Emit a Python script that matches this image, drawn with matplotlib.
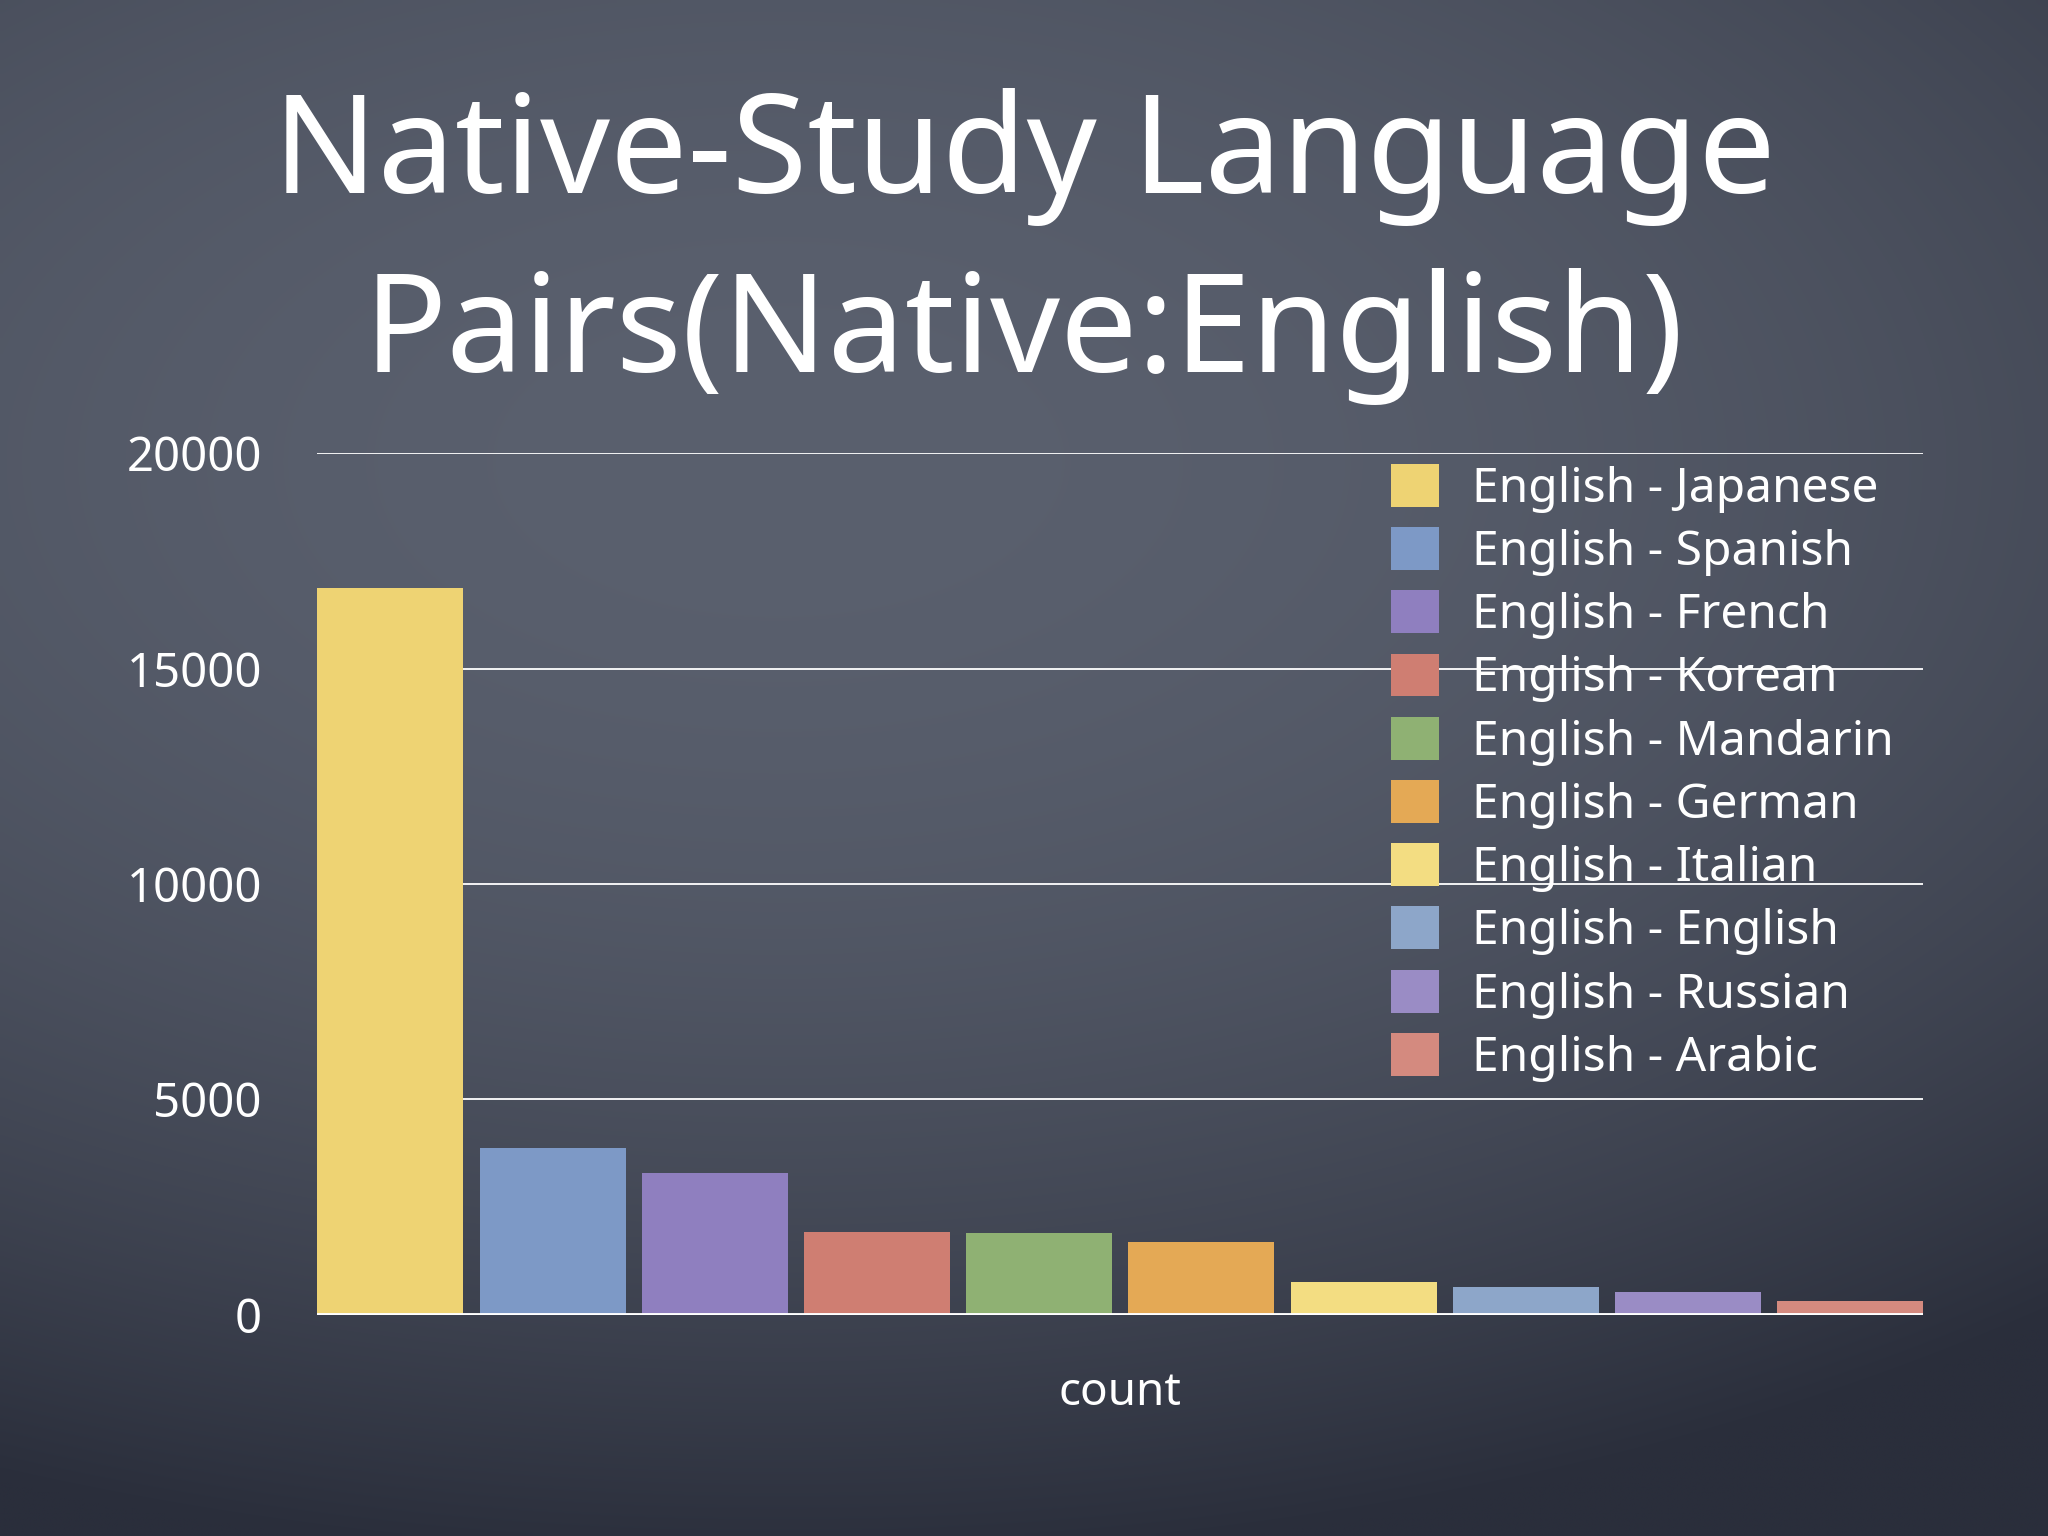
import numpy as np
import matplotlib
matplotlib.use("Agg")
import matplotlib.pyplot as plt

# ---- data ----
labels = ["English - Japanese", "English - Spanish", "English - French", "English - Korean",
          "English - Mandarin", "English - German", "English - Italian", "English - English",
          "English - Russian", "English - Arabic"]
counts = [16870, 3880, 3295, 1925, 1910, 1690, 765, 640, 540, 325]
colors = ["#eed373", "#7d99c6", "#8f7fbf", "#cf7e72", "#8fb173",
          "#e4a955", "#f3dd82", "#8da6c9", "#9a8cc5", "#d48a7f"]
yticks = [0, 5000, 10000, 15000, 20000]
title = "Native-Study Language\nPairs(Native:English)"
xlabel = "count"

FONT = "Noto Sans"

fig = plt.figure(figsize=(20.48, 15.36), dpi=100)

# chalkboard-like background gradient
bg = fig.add_axes([0, 0, 1, 1], zorder=-10)
H, W = 300, 400
yy, xx = np.mgrid[0:1:H * 1j, 0:1:W * 1j]
r = np.sqrt(((xx - 0.38) / 1.1) ** 2 + ((yy - 0.3) / 0.8) ** 2)
t = np.clip(r / 0.9, 0, 1) ** 2.0
light = np.array([0x5a, 0x60, 0x6e]) / 255.0
dark = np.array([0x2a, 0x2e, 0x3b]) / 255.0
img = light[None, None, :] * (1 - t[..., None]) + dark[None, None, :] * t[..., None]
bg.imshow(img, aspect="auto", extent=[0, 1, 0, 1], interpolation="bilinear")
bg.axis("off")

ax = fig.add_axes([0.155, 0.144, 0.784, 0.561])
ax.patch.set_alpha(0)

x = np.arange(len(counts))
bars = ax.bar(x, counts, width=0.9, align="edge", color=colors, zorder=3, linewidth=0)
ax.set_xlim(0, len(counts) - 1 + 0.9)
ax.set_ylim(0, 20000)
ax.set_yticks(yticks)
ax.set_yticklabels([str(v) for v in yticks], color="white", fontsize=34, family=FONT)
ax.tick_params(axis="y", length=0, pad=40)
ax.set_xticks([])
for s in ax.spines.values():
    s.set_visible(False)
for v in yticks[1:]:
    ax.axhline(v, color="white", lw=1.3, zorder=1)
ax.axhline(0, color="white", lw=3.5, zorder=4)

ax.set_xlabel(xlabel, color="white", fontsize=33, family=FONT, labelpad=40)

leg = ax.legend(bars, labels, loc="upper left", bbox_to_anchor=(0.679, 0.698),
                bbox_transform=fig.transFigure, frameon=False,
                handlelength=1.0, handleheight=1.0, handletextpad=0.7,
                labelspacing=0.30, borderpad=0, borderaxespad=0,
                prop={"family": FONT, "size": 34.5})
for txt in leg.get_texts():
    txt.set_color("white")

lines = title.split("\n")
fig.text(0.5, 1 - 193 / 1536, lines[0], ha="center", va="baseline", color="white",
         fontsize=99, family=FONT)
fig.text(0.5, 1 - 372 / 1536, lines[1], ha="center", va="baseline", color="white",
         fontsize=99, family=FONT)

fig.savefig("out.png", dpi=100)
